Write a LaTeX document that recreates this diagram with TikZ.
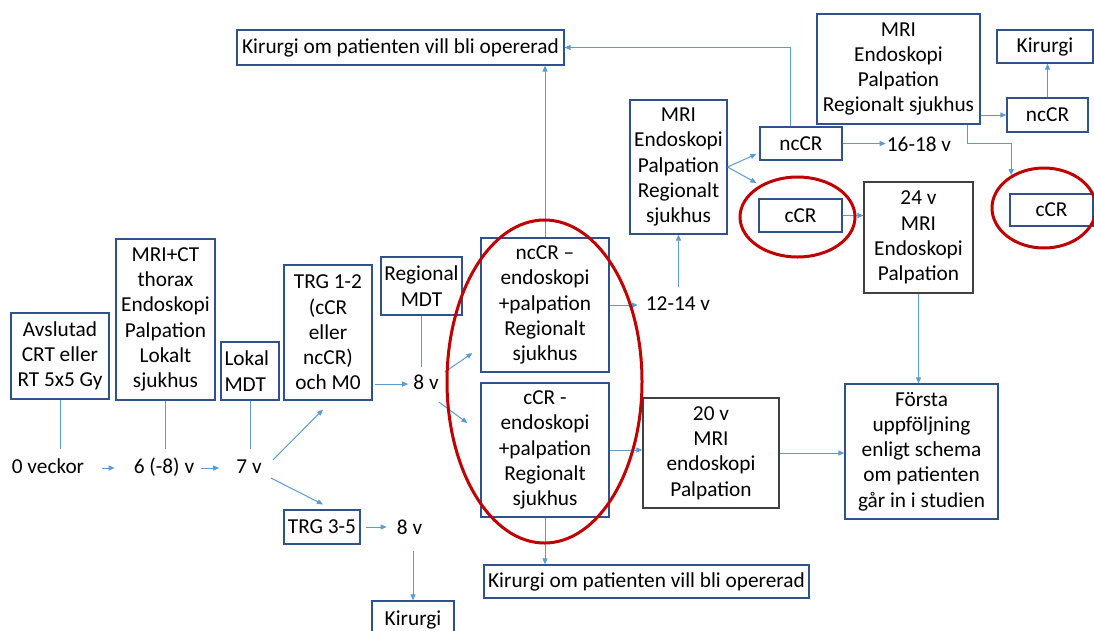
\documentclass[tikz,border=0pt]{standalone}
\usepackage{fontspec}
\setmainfont{Carlito}
\usetikzlibrary{arrows.meta,shapes.geometric}
\definecolor{boxblue}{RGB}{47,82,143}
\definecolor{boxgray}{RGB}{64,64,64}
\definecolor{lineblue}{RGB}{91,155,213}
\definecolor{ringred}{RGB}{192,0,0}
\begin{document}
\begin{tikzpicture}[x=1pt,y=-1pt,
	every node/.style={font=\fontsize{21.3}{25.2}\selectfont},
	box/.style={draw=boxblue,line width=1.2pt,align=center,inner sep=2pt},
	graybox/.style={box,draw=boxgray},
	wk/.style={inner sep=0pt,text height=14.5pt,text depth=4pt},
	arr/.style={draw=lineblue,line width=1pt,-{Triangle[length=6pt,width=5pt]}},
	link/.style={draw=lineblue,line width=1pt},
	ring/.style={draw=ringred,line width=3pt,ellipse,inner sep=0pt}]
	\useasboundingbox (0,0) rectangle (1094,630);
	\node [box,minimum width=98pt,minimum height=86pt] (avsl) at (60,356) {Avslutad\\CRT eller\\RT 5x5 Gy};
	\node [box,minimum width=99pt,minimum height=161pt] (mrict) at (165.5,319.5) {MRI+CT\\thorax\\Endoskopi\\Palpation\\Lokalt\\sjukhus};
	\node [box,align=left,text width=51pt,minimum width=58pt,minimum height=58pt] (lokal) at (250,371) {Lokal\\MDT};
	\node [box,minimum width=88pt,minimum height=135pt] (trg12) at (328,332.5) {TRG 1-2\\(cCR\\eller\\ncCR)\\och M0};
	\node [box,minimum width=81pt,minimum height=58pt] (rmdt) at (421.5,286) {Regional\\MDT};
	\node [box,minimum width=76pt,minimum height=34pt] (trg35) at (322,527) {TRG 3-5};
	\node [box,minimum width=82pt,minimum height=38pt] (kir2) at (413,620) {Kirurgi};
	\node [box,minimum width=128pt,minimum height=134pt] (nccr) at (545,305) {ncCR --\\endoskopi\\+palpation\\Regionalt\\sjukhus};
	\node [box,minimum width=128pt,minimum height=134pt] (ccr) at (545,450) {cCR -\\endoskopi\\+palpation\\Regionalt\\sjukhus};
	\node [graybox,minimum width=136pt,minimum height=110pt] (box20) at (711,453) {20 v\\MRI\\endoskopi\\Palpation};
	\node [box,minimum width=325pt,minimum height=33pt] (kir3) at (646.5,581.5) {Kirurgi om patienten vill bli opererad};
	\node [box,minimum width=327pt,minimum height=35pt] (kir1) at (400.5,47.5) {Kirurgi om patienten vill bli opererad};
	\node [box,minimum width=97pt,minimum height=134pt] (mri2) at (678.5,167) {MRI\\Endoskopi\\Palpation\\Regionalt\\sjukhus};
	\node [box,minimum width=82pt,minimum height=33pt] (nccr2) at (801,143.5) {ncCR};
	\node [box,minimum width=83pt,minimum height=33pt] (ccr2) at (800.5,215.5) {cCR};
	\node [graybox,minimum width=109pt,minimum height=111pt] (box24) at (918.5,237.5) {24 v\\MRI\\Endoskopi\\Palpation};
	\node [box,minimum width=163pt,minimum height=110pt] (mri3) at (898.5,69) {MRI\\Endoskopi\\Palpation\\Regionalt sjukhus};
	\node [box,minimum width=81pt,minimum height=34pt] (nccr3) at (1047.5,115) {ncCR};
	\node [box,minimum width=96pt,minimum height=33pt] (kir4) at (1045,46.5) {Kirurgi};
	\node [box,minimum width=83pt,minimum height=32pt] (ccr3) at (1051.5,210) {cCR};
	\node [box,minimum width=153pt,minimum height=135pt] (forsta) at (921.5,451.5) {Första\\uppföljning\\enligt schema\\om patienten\\går in i studien};
	\node [wk] (t0) at (48,468) {0 veckor};
	\node [wk] (t6) at (164,468) {6 (-8) v};
	\node [wk] (t7) at (249,468) {7 v};
	\node [wk] (t8a) at (426,384) {8 v};
	\node [wk] (t8b) at (409.5,529) {8 v};
	\node [wk] (t1214) at (678,305) {12-14 v};
	\node [wk] (t1618) at (919,146) {16-18 v};
	\draw [arr,shorten <=18pt,shorten >=19pt] (t0) -- (t6);
	\draw [arr,shorten <=7pt,shorten >=17pt] (t6) -- (t7);
	\draw [link,shorten >=10pt] (avsl.south) -- (avsl.south |- t0.north);
	\draw [link,shorten >=10pt] (mrict.south) -- (mrict.south |- t0.north);
	\draw [link,shorten >=10pt] (lokal.south) -- (lokal.south |- t7.north);
	\draw [arr] ([shift={(11,-8)}]t7.east) -- ([shift={(-5,9)}]trg12.south);
	\draw [arr] ([shift={(9,10)}]t7.east) -- ([shift={(1,-5)}]trg35.north);
	\draw [arr,shorten <=5pt,shorten >=10pt] (trg35.east) -- (trg35.east -| t8b.west);
	\draw [arr,shorten <=13pt] (kir2.north |- t8b.south) -- (kir2.north);
	\draw [arr,shorten <=2pt,shorten >=5pt] (trg12.east |- t8a) -- (t8a.west);
	\draw [link,shorten >=8pt] (rmdt.south) -- (rmdt.south |- t8a.north);
	\draw [arr] ([shift={(6,-12)}]t8a.east) -- ([shift={(-8,48)}]nccr.west);
	\draw [arr] ([shift={(0,18)}]t8a.east) -- ([shift={(-13,-27)}]ccr.west);
	\draw [arr,shorten >=8pt] (nccr.east |- t1214) -- (t1214.west);
	\draw [arr,shorten <=9pt] (mri2.south |- t1214.north) -- (mri2.south);
	\draw [arr] (nccr.north) -- (nccr.north |- kir1.south);
	\draw [arr] (ccr.south) -- (ccr.south |- kir3.north);
	\draw [arr] (ccr.east) -- (ccr.east -| box20.west);
	\draw [arr] (box20.east) -- (box20.east -| forsta.west);
	\draw [arr] (mri2.east) -- ([shift={(-3,10.5)}]nccr2.west);
	\draw [arr] (mri2.east) -- ([shift={(-2,-32.5)}]ccr2.west);
	\draw [arr,shorten >=1pt] (nccr2.east) -- (nccr2.east -| t1618.west);
	\draw [arr] (ccr2.east) -- (ccr2.east -| box24.west);
	\draw [arr] ([xshift=-11pt]nccr2.north) |- (kir1.east);
	\draw [arr] (box24.south) -- (box24.south |- forsta.north);
	\draw [arr] (mri3.east |- nccr3.west) -- (nccr3.west);
	\draw [arr] (nccr3.north) -- (nccr3.north |- kir4.south);
	\node [ring,minimum width=195pt,minimum height=323pt] (ell1) at (544.5,381.5) {};
	\node [ring,minimum width=115pt,minimum height=80pt] (ell2) at (797.5,217) {};
	\node [ring,minimum width=104pt,minimum height=80pt] (ell3) at (1044,208) {};
	\draw [arr] ([xshift=68.5pt]mri3.south) -- ++(0,19) -| (ell3.135);
\end{tikzpicture}
\end{document}
